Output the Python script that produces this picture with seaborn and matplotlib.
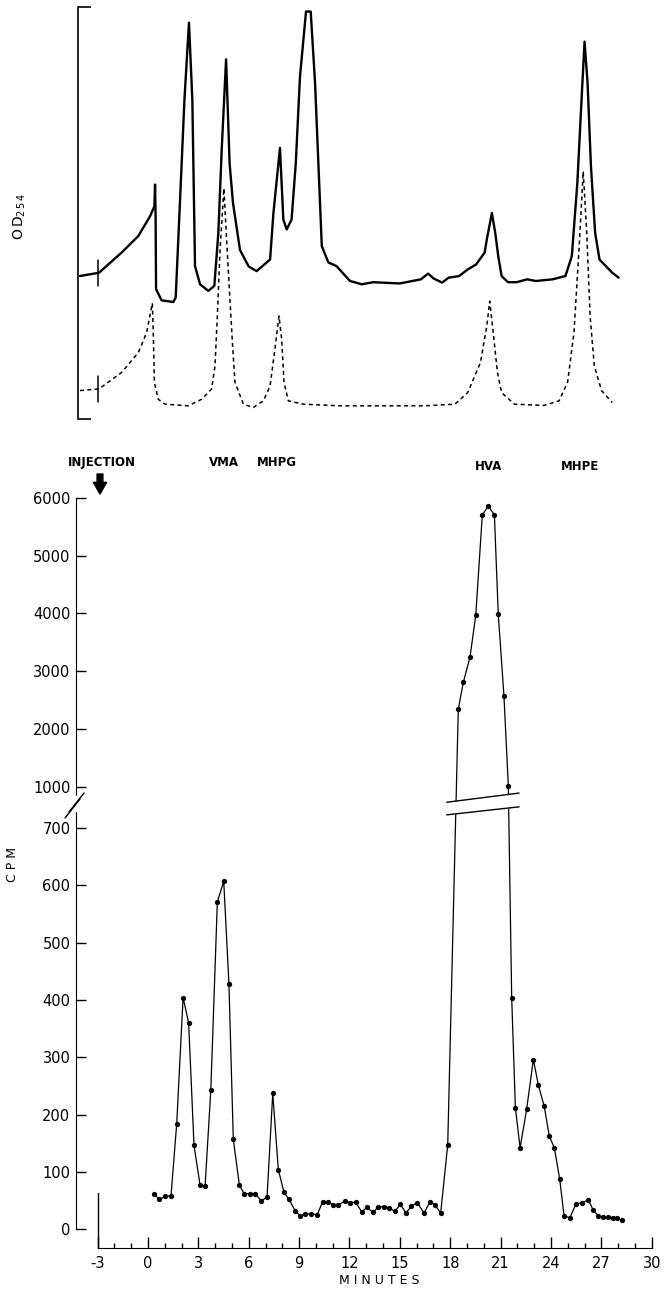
import numpy as np
import matplotlib
matplotlib.use("Agg")
import matplotlib.pyplot as plt
from matplotlib.lines import Line2D
from matplotlib.patches import Rectangle
from matplotlib.ticker import NullLocator
from matplotlib.transforms import blended_transform_factory
import seaborn as sns

# UV trace, OD254 in arbitrary units (0 = bottom of bracket, 100 = top)
od_solid_min = [-4.05, -2.92, -1.57, -0.58, 0.12, 0.38, 0.42, 0.45, 0.48, 0.81,
                1.51, 1.65, 1.91, 2.17, 2.44, 2.64, 2.80, 3.10, 3.59, 3.95,
                4.19, 4.39, 4.65, 4.86, 5.06, 5.48, 6.00, 6.47, 7.27, 7.47,
                7.86, 8.06, 8.26, 8.55, 8.80, 9.05, 9.41, 9.69, 9.95, 10.35,
                10.74, 11.23, 12.03, 12.73, 13.42, 15.00, 16.25, 16.68, 17.01, 17.52,
                17.90, 18.53, 19.04, 19.54, 20.05, 20.18, 20.48, 20.68, 20.86, 21.06,
                21.44, 21.95, 22.58, 23.09, 24.10, 24.86, 25.24, 25.57, 25.82, 26.00,
                26.18, 26.38, 26.63, 26.89, 27.27, 27.65, 28.03]
od_solid = [34.7, 35.5, 40.4, 44.4, 49.2, 51.6, 56.9, 50.0, 31.5, 28.8,
            28.4, 29.5, 53.3, 77.5, 96.2, 77.5, 37.1, 32.7, 31.1, 32.3,
            45.2, 65.4, 87.3, 62.0, 52.5, 41.0, 37.0, 35.9, 38.7, 50.0,
            65.8, 48.4, 46.0, 48.4, 62.0, 83.0, 98.9, 98.9, 81.5, 42.0,
            38.0, 37.1, 33.5, 32.7, 33.2, 32.9, 33.9, 35.3, 34.1, 33.1,
            34.3, 34.7, 36.3, 37.5, 40.4, 43.6, 50.0, 45.2, 39.5, 34.7,
            33.2, 33.2, 33.9, 33.5, 33.9, 34.7, 39.5, 57.3, 77.5, 91.6,
            81.5, 61.3, 45.2, 38.7, 37.1, 35.5, 34.3]

od_dash_min = [-4.05, -2.92, -1.57, -0.58, -0.08, 0.26, 0.32, 0.38, 0.61, 1.01,
               2.40, 3.20, 3.79, 3.99, 4.13, 4.29, 4.52, 4.70, 4.88, 5.05,
               5.18, 5.68, 6.27, 6.87, 7.27, 7.56, 7.80, 7.96, 8.10, 8.36,
               9.25, 11.44, 16.50, 18.28, 19.04, 19.80, 20.18, 20.35, 20.56, 20.81,
               21.06, 21.82, 23.59, 24.48, 24.99, 25.37, 25.67, 25.92, 26.13, 26.33,
               26.58, 27.01, 27.65]
od_dash = [6.9, 7.3, 11.3, 16.1, 21.0, 28.1, 20.0, 8.9, 4.8, 3.6,
           3.2, 4.8, 7.3, 12.9, 25.0, 41.0, 56.0, 42.0, 29.0, 17.0,
           8.9, 3.6, 2.8, 4.4, 8.0, 17.0, 25.0, 19.4, 8.9, 4.4,
           3.6, 3.2, 3.2, 3.6, 6.4, 13.7, 22.6, 28.6, 21.0, 11.3,
           6.4, 3.6, 3.3, 4.4, 8.9, 21.0, 41.2, 60.1, 45.2, 25.0,
           12.9, 6.9, 4.0]

# radioactivity of the collected fractions
cpm_min = [0.36, 0.68, 1.02, 1.37, 1.71, 2.09, 2.42, 2.74, 3.10, 3.40,
           3.74, 4.13, 4.51, 4.82, 5.08, 5.44, 5.72, 6.05, 6.38, 6.75,
           7.09, 7.43, 7.76, 8.10, 8.40, 8.76, 9.07, 9.37, 9.69, 10.08,
           10.40, 10.70, 11.04, 11.33, 11.73, 12.05, 12.37, 12.73, 13.04, 13.40,
           13.72, 14.04, 14.37, 14.70, 15.03, 15.36, 15.69, 16.04, 16.44, 16.80,
           17.09, 17.43, 17.85, 18.48, 18.78, 19.18, 19.52, 19.91, 20.27, 20.63,
           20.86, 21.20, 21.46, 21.66, 21.88, 22.16, 22.55, 22.95, 23.25, 23.60,
           23.90, 24.20, 24.52, 24.78, 25.13, 25.49, 25.85, 26.22, 26.52, 26.82,
           27.12, 27.42, 27.71, 27.94, 28.25]
cpm = [61, 52, 57, 58, 184, 404, 360, 146, 77, 75,
       242, 571, 607, 428, 157, 77, 62, 62, 62, 49,
       56, 237, 104, 64, 52, 32, 23, 26, 27, 25,
       48, 48, 42, 42, 49, 46, 47, 30, 38, 29,
       39, 39, 37, 31, 43, 28, 40, 46, 28, 48,
       42, 28, 147, 2345, 2810, 3250, 3970, 5700, 5860, 5700,
       3990, 2570, 1015, 403, 212, 142, 209, 296, 251, 214,
       162, 142, 87, 23, 20, 44, 46, 51, 33, 23,
       21, 21, 20, 19, 15]

peak_names = ["VMA", "MHPG", "HVA", "MHPE"]
peak_label_min = [4.53, 7.68, 20.31, 25.73]
injection_min = -3

x_ticks = [-3, 0, 3, 6, 9, 12, 15, 18, 21, 24, 27, 30]
x_tick_labels = ["-3", "0", "3", "6", "9", "12", "15", "18", "21", "24", "27", "30"]
y_ticks = [0, 100, 200, 300, 400, 500, 600, 700, 1000, 2000, 3000, 4000, 5000, 6000]
y_tick_labels = ["0", "100", "200", "300", "400", "500", "600", "700",
                 "1000", "2000", "3000", "4000", "5000", "6000"]

# broken CPM axis: linear to 700, squeezed 700-1000, 1/10 scale above 1000
SPLIT = 771.5
UP = 0.101


def fwd(y):
    y = np.asarray(y, dtype=float)
    return np.where(y <= 700, y,
                    np.where(y <= 1000, 700 + (y - 700) * (SPLIT - 700) / 300,
                             SPLIT + (y - 1000) * UP))


def inv(v):
    v = np.asarray(v, dtype=float)
    return np.where(v <= 700, v,
                    np.where(v <= SPLIT, 700 + (v - 700) * 300 / (SPLIT - 700),
                             1000 + (v - SPLIT) / UP))


sns.set_style("ticks", {"axes.edgecolor": "black", "xtick.color": "black",
                        "ytick.color": "black", "text.color": "black"})
plt.rcParams["font.family"] = ["DejaVu Sans"]

W, H = 666, 1292
fig = plt.figure(figsize=(W / 100, H / 100), dpi=100)


def fx(px):
    return px / W


def fy(py):
    return 1 - py / H


XLIM = (-4.29, 30.6)
left, width = fx(75.97), fx(661.8 - 75.97)

# ---- OD254 chromatogram ----
ax_od = fig.add_axes([left, fy(419), width, (419 - 7) / H])
sns.lineplot(x=od_solid_min, y=od_solid, ax=ax_od, color="black", lw=1.7,
             sort=False, estimator=None)
sns.lineplot(x=od_dash_min, y=od_dash, ax=ax_od, color="black", lw=1.1,
             linestyle=(0, (2.6, 2.2)), sort=False, estimator=None)
for tr_x, tr_y in [(od_solid_min, od_solid), (od_dash_min, od_dash)]:
    base = np.interp(injection_min, tr_x, tr_y)
    ax_od.plot([injection_min, injection_min], [base - 3.2, base + 3.2],
               color="black", lw=1.1)
ax_od.set_xlim(*XLIM)
ax_od.set_ylim(0, 100)
for s in ["top", "right", "bottom"]:
    ax_od.spines[s].set_visible(False)
ax_od.spines["left"].set_position(("data", -4.17))
ax_od.spines["left"].set_bounds(0, 100)
ax_od.spines["left"].set_linewidth(1.2)
ax_od.set_xticks([])
ax_od.set_yticks([0, 100])
ax_od.set_yticklabels([])
ax_od.tick_params(axis="y", direction="in", length=9, width=1.2)
ax_od.set_xlabel("")
ax_od.set_ylabel("")
fig.text(fx(20), fy(216), r"$\mathregular{O\,D_{2\,5\,4}}$", rotation=90,
         ha="center", va="center", fontsize=10)

# ---- CPM of fractions ----
ax = fig.add_axes([left, fy(1248), width, (1248 - 490) / H])
ax.set_yscale("function", functions=(fwd, inv))
sns.lineplot(x=cpm_min, y=cpm, ax=ax, color="black", lw=0.9, marker="o",
             markersize=3.8, markeredgewidth=0, sort=False, estimator=None)
ax.set_xlim(*XLIM)
ax.set_ylim(-33, float(inv(1290)))
ax.yaxis.set_minor_locator(NullLocator())
ax.set_yticks(y_ticks)
ax.set_yticklabels(y_tick_labels)
ax.set_xticks(x_ticks)
ax.set_xticklabels(x_tick_labels)
ax.set_xticks([m for m in range(-3, 31) if m % 3], minor=True)
ax.tick_params(axis="y", direction="in", length=7.5, width=1, pad=4, labelsize=10.5)
ax.tick_params(axis="x", which="major", direction="in", length=8, width=1,
               pad=6, labelsize=10.5)
ax.tick_params(axis="x", which="minor", direction="in", length=3.8, width=1)
ax.spines["top"].set_visible(False)
ax.spines["right"].set_visible(False)
ax.spines["left"].set_bounds(0, 6000)
ax.spines["bottom"].set_bounds(-3, 30)
ax.set_xlabel("")
ax.set_ylabel("")

# tall mark at the injection time on the time axis
ax.plot([injection_min, injection_min], [-33, 63], color="black", lw=1,
        clip_on=False)

# break across the HVA peak
brk_x = [17.79, 22.10]
ax.fill_between(brk_x, inv([723, 737]), inv([745, 761]), color="white",
                lw=0, zorder=3)
ax.plot(brk_x, inv([745, 761]), color="black", lw=1, zorder=4)
ax.plot(brk_x, inv([723, 737]), color="black", lw=1, zorder=4)

# break on the y axis
fig.add_artist(Rectangle((fx(72), fy(811)), fx(8), (811 - 796) / H,
                         transform=fig.transFigure, color="white", zorder=5))
for dx, dy in [(0, 0), (4, -6)]:
    fig.add_artist(Line2D([fx(65 + dx), fx(80 + dx)], [fy(818 + dy), fy(799 + dy)],
                          transform=fig.transFigure, color="black", lw=1,
                          zorder=6))

# labels
tr = blended_transform_factory(ax.transData, fig.transFigure)
ax.text(-2.74, fy(463), "INJECTION", transform=tr, ha="center", va="center",
        fontsize=8.5, fontweight="bold")
ax.annotate("", xy=(injection_min + 0.14, fy(494)),
            xytext=(injection_min + 0.14, fy(474)), xycoords=tr, textcoords=tr,
            arrowprops=dict(arrowstyle="simple,head_length=0.7,head_width=0.8,tail_width=0.35",
                            fc="black", ec="black", shrinkA=0, shrinkB=0,
                            mutation_scale=12))
for name, xm in zip(peak_names, peak_label_min):
    ax.text(xm, fy(463 if name in ("VMA", "MHPG") else 467), name,
            transform=tr, ha="center", va="center", fontsize=8.5,
            fontweight="bold")

fig.text(fx(13), fy(865), "C P M", rotation=90, ha="center", va="center",
         fontsize=9)
fig.text(fx(379), fy(1280), "M I N U T E S", ha="center", va="center",
         fontsize=9)

fig.savefig("out.png", dpi=100)
